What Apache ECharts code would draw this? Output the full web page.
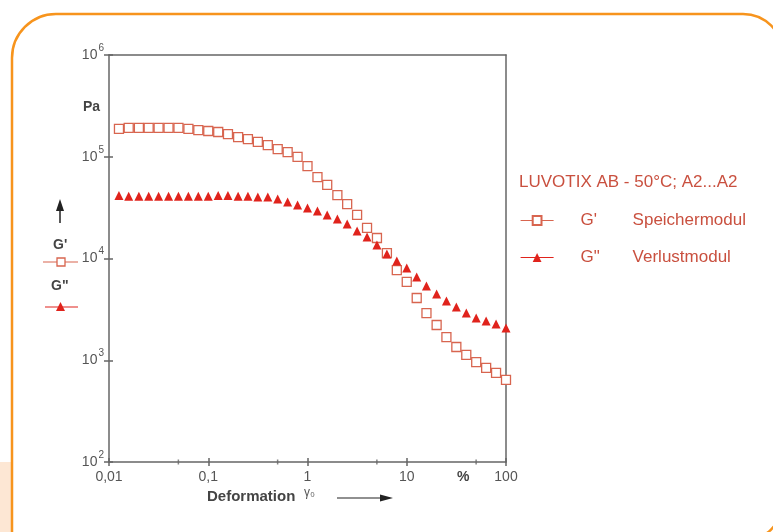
<!DOCTYPE html>
<html>
<head>
<meta charset="utf-8">
<script src="https://cdn.jsdelivr.net/npm/echarts@6/dist/echarts.min.js"></script>
<style>
html, body { margin: 0; padding: 0; background: #fff; }
#main { width: 773px; height: 532px; }
</style>
</head>
<body>
<div id="main"></div>
<script>
// Deformation (%) - messpunkte
var strain = [0.0126, 0.0158, 0.02, 0.0251, 0.0316, 0.0398, 0.0501, 0.0631, 0.0794, 0.1,
    0.126, 0.158, 0.2, 0.251, 0.316, 0.398, 0.501, 0.631, 0.794, 1,
    1.26, 1.58, 2, 2.51, 3.16, 3.98, 5.01, 6.31, 7.94, 10,
    12.6, 15.8, 20, 25.1, 31.6, 39.8, 50.1, 63.1, 79.4, 100];
// G' Speichermodul (Pa)
var gStorage = [1.88e5, 1.92e5, 1.92e5, 1.92e5, 1.92e5, 1.92e5, 1.92e5, 1.88e5, 1.83e5, 1.79e5,
    1.75e5, 1.67e5, 1.56e5, 1.49e5, 1.40e5, 1.30e5, 1.19e5, 1.11e5, 9.95e4, 8.1e4,
    6.3e4, 5.28e4, 4.2e4, 3.43e4, 2.68e4, 2.0e4, 1.59e4, 1.13e4, 7700, 5900,
    4090, 2910, 2220, 1690, 1350, 1130, 960, 840, 750, 640];
// G" Verlustmodul (Pa)
var gLoss = [4.15e4, 4.1e4, 4.1e4, 4.1e4, 4.1e4, 4.1e4, 4.1e4, 4.1e4, 4.1e4, 4.1e4,
    4.15e4, 4.15e4, 4.1e4, 4.1e4, 4.02e4, 4.02e4, 3.84e4, 3.59e4, 3.36e4, 3.13e4,
    2.93e4, 2.68e4, 2.45e4, 2.18e4, 1.86e4, 1.63e4, 1.36e4, 1.11e4, 9450, 8070,
    6580, 5370, 4480, 3820, 3330, 2910, 2600, 2430, 2270, 2070];
var minorTicks = [0.05, 0.5, 5, 50];
var seriesNames = ["G'", 'G"'];
var seriesText = ['Speichermodul', 'Verlustmodul'];
var legendTitle = 'LUVOTIX AB - 50°C; A2...A2';

var font = "'Liberation Sans', Arial, sans-serif";
var sqColor = '#d8654f';
var triColor = '#e0231c';
var txtRed = '#c9503f';
var axisCol = '#666';

var myChart = echarts.init(document.getElementById('main'));

function pairs(ys) {
    return strain.map(function (x, i) { return [x, ys[i]]; });
}

function xLabel(v) {
    return String(v).replace('.', ',');
}
function yLabel(v) {
    return '{b|10}{s|' + Math.round(Math.log10(v)) + '}';
}

var option = {
    animation: false,
    backgroundColor: '#fff',
    textStyle: { fontFamily: font },
    title: {
        text: legendTitle,
        left: 514,
        top: 169,
        textStyle: { fontFamily: font, fontSize: 17, fontWeight: 'normal', color: txtRed }
    },
    legend: {
        data: [
            { name: seriesNames[0], lineStyle: { color: sqColor, width: 1.2, opacity: 1 } },
            { name: seriesNames[1], lineStyle: { color: triColor, width: 1.2, opacity: 1 } }
        ],
        orient: 'vertical',
        left: 515,
        top: 207,
        itemWidth: 33,
        itemHeight: 11,
        itemGap: 20,
        lineStyle: { width: 1.2, opacity: 1, color: triColor },
        formatter: function (name) {
            return '{a|' + name + '}{b|' + seriesText[seriesNames.indexOf(name)] + '}';
        },
        textStyle: {
            fontFamily: font,
            color: txtRed,
            fontSize: 17,
            rich: {
                a: { fontSize: 17, color: txtRed, width: 52, padding: [0, 0, 0, 22], lineHeight: 20 },
                b: { fontSize: 17, color: txtRed, lineHeight: 20 }
            }
        }
    },
    grid: { left: 109, right: 267, top: 55, bottom: 70, outerBoundsMode: 'none' },
    xAxis: [{
        type: 'log', logBase: 10, min: 0.01, max: 100, position: 'bottom',
        axisLine: { onZero: false, lineStyle: { color: axisCol, width: 1.5 } },
        axisTick: { length: 4, lineStyle: { color: axisCol, width: 1.5 } },
        axisLabel: { formatter: xLabel, color: '#555', fontSize: 14, margin: 8, fontFamily: font },
        splitLine: { show: false }
    }, {
        type: 'log', logBase: 10, min: 0.01, max: 100, position: 'bottom',
        axisLine: { show: false },
        axisTick: { inside: true, length: 4, lineStyle: { color: axisCol, width: 1.5 } },
        axisLabel: { show: false },
        splitLine: { show: false }
    }, {
        type: 'log', logBase: 10, min: 0.01, max: 100, position: 'top',
        axisLine: { onZero: false, lineStyle: { color: axisCol, width: 1.5 } },
        axisTick: { show: false },
        axisLabel: { show: false },
        splitLine: { show: false }
    }],
    yAxis: [{
        type: 'log', logBase: 10, min: 100, max: 1e6, position: 'left',
        axisLine: { onZero: false, lineStyle: { color: axisCol, width: 1.5 } },
        axisTick: { length: 5, lineStyle: { color: axisCol, width: 1.5 } },
        axisLabel: {
            formatter: yLabel, margin: 5,
            rich: {
                b: { fontSize: 14, color: '#555', fontFamily: font, verticalAlign: 'middle' },
                s: { fontSize: 10, color: '#555', fontFamily: font, verticalAlign: 'middle', padding: [0, 0, 14, 1] }
            }
        },
        splitLine: { show: false }
    }, {
        type: 'log', logBase: 10, min: 100, max: 1e6, position: 'left',
        axisLine: { show: false },
        axisTick: { inside: true, length: 4, lineStyle: { color: axisCol, width: 1.5 } },
        axisLabel: { show: false },
        splitLine: { show: false }
    }, {
        type: 'log', logBase: 10, min: 100, max: 1e6, position: 'right',
        axisLine: { onZero: false, lineStyle: { color: axisCol, width: 1.5 } },
        axisTick: { show: false },
        axisLabel: { show: false },
        splitLine: { show: false }
    }],
    series: [{
        name: seriesNames[0],
        type: 'line',
        color: sqColor,
        data: pairs(gStorage),
        symbol: 'rect',
        symbolSize: 9,
        showAllSymbol: true,
        lineStyle: { width: 0, opacity: 0, color: sqColor },
        itemStyle: { color: '#fff', borderColor: sqColor, borderWidth: 1.3 },
        emphasis: { disabled: true },
        z: 3
    }, {
        name: seriesNames[1],
        type: 'line',
        color: triColor,
        data: pairs(gLoss),
        symbol: 'triangle',
        symbolSize: 9,
        showAllSymbol: true,
        lineStyle: { width: 0, opacity: 0, color: triColor },
        itemStyle: { color: triColor },
        emphasis: { disabled: true },
        z: 4
    }, {
        // kleine Zwischenstriche bei 5er-Werten
        type: 'scatter',
        data: minorTicks.map(function (v) { return [v, 100]; }),
        symbol: 'rect',
        symbolSize: [1.5, 5],
        itemStyle: { color: axisCol },
        silent: true,
        clip: false,
        z: 2
    }],
    graphic: [
        { type: 'rect', z: -2, shape: { x: 0, y: 462, width: 11, height: 70 }, style: { fill: '#fde7d4' } },
        { type: 'rect', z: -1, shape: { x: 12, y: 14, width: 771, height: 527, r: [44, 40, 40, 0] },
          style: { fill: 'none', stroke: '#f7941d', lineWidth: 2.5 } },
        { type: 'text', left: 83, top: 100, style: { text: 'Pa', font: 'bold 14px ' + font, fill: '#444' } },
        // Pfeil nach oben
        { type: 'line', shape: { x1: 60, y1: 223, x2: 60, y2: 208 }, style: { stroke: '#222', lineWidth: 1.5 } },
        { type: 'polygon', shape: { points: [[56, 211], [64, 211], [60, 199]] }, style: { fill: '#222' } },
        { type: 'text', left: 53, top: 238, style: { text: "G'", font: 'bold 14px ' + font, fill: '#444' } },
        { type: 'line', shape: { x1: 43, y1: 262, x2: 78, y2: 262 }, style: { stroke: sqColor, lineWidth: 1.2 } },
        { type: 'rect', shape: { x: 57, y: 258, width: 8, height: 8 }, style: { fill: '#fff', stroke: sqColor, lineWidth: 1.3 } },
        { type: 'text', left: 51, top: 279, style: { text: 'G"', font: 'bold 14px ' + font, fill: '#444' } },
        { type: 'line', shape: { x1: 45, y1: 307, x2: 78, y2: 307 }, style: { stroke: triColor, lineWidth: 1.2 } },
        { type: 'polygon', shape: { points: [[56, 311], [65, 311], [60.5, 302]] }, style: { fill: triColor } },
        // Achsentitel unten
        { type: 'text', left: 457, top: 470, style: { text: '%', font: 'bold 14px ' + font, fill: '#444', textAlign: 'center' } },
        { type: 'text', left: 207, top: 489, style: { text: 'Deformation', font: 'bold 15px ' + font, fill: '#444' } },
        { type: 'text', left: 304, top: 487, style: { text: 'γ₀', font: '12px ' + font, fill: '#555' } },
        { type: 'line', shape: { x1: 337, y1: 498, x2: 382, y2: 498 }, style: { stroke: '#222', lineWidth: 1.2 } },
        { type: 'polygon', shape: { points: [[380, 494.5], [393, 498], [380, 501.5]] }, style: { fill: '#222' } }
    ]
};

myChart.setOption(option, true);
</script>
</body>
</html>
